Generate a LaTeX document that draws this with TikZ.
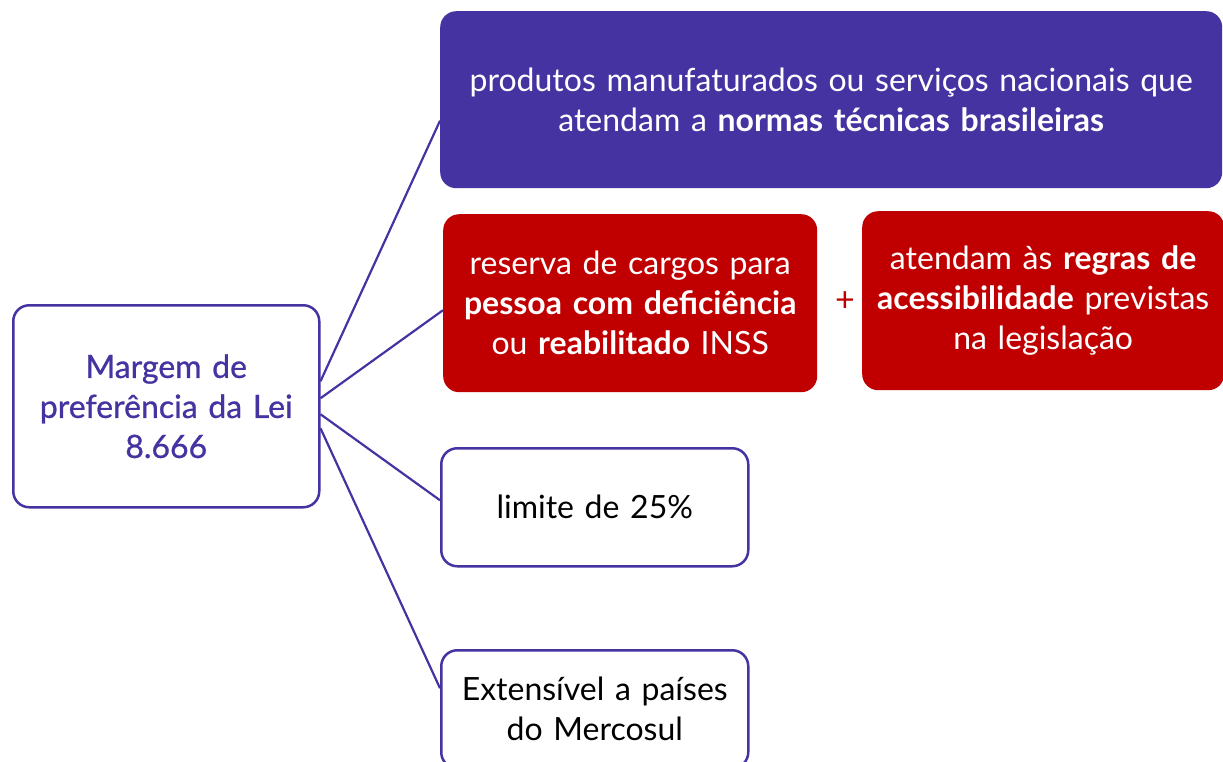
\documentclass[tikz,border=0pt]{standalone}
\usepackage{fontspec}
\setmainfont{Lato}
\definecolor{lilas}{RGB}{68,51,160}
\definecolor{vermelho}{RGB}{192,0,0}
\begin{document}
\begin{tikzpicture}[x=1pt, y=1pt,
	caixa/.style={rounded corners=16pt, align=center, inner sep=0pt, anchor=north west,
		font=\fontsize{32}{40}\selectfont},
	branca/.style={caixa, draw=lilas, line width=2.5pt, fill=white, text=black},
	cheia/.style={caixa, text=white},
	ramo/.style={draw=lilas, line width=2.2pt}]
	\useasboundingbox (0,0) rectangle (1223,-761);
	% raiz
	\node[branca, text=lilas, minimum width=306, minimum height=202, text width=296,
		font=\fontsize{32}{40}\selectfont\addfontfeature{FakeBold=0.8}] (raiz) at (12,-304)
		{Margem de\\preferência da Lei\\8.666};
	% ramos
	\node[cheia, fill=lilas, minimum width=782, minimum height=177, text width=770] (normas) at (440,-11)
		{produtos manufaturados ou serviços nacionais que\\atendam a \textbf{normas técnicas brasileiras}};
	\node[cheia, fill=vermelho, minimum width=374, minimum height=178, text width=366] (cargos) at (443,-214)
		{reserva de cargos para\\\textbf{pessoa com deficiência}\\ou \textbf{reabilitado} INSS};
	\node[cheia, fill=vermelho, minimum width=362, minimum height=179, text width=356] (acesso) at (862,-211)
		{atendam às \textbf{regras de}\\\textbf{acessibilidade} previstas\\na legislação};
	\node[text=vermelho, font=\fontsize{34}{40}\selectfont\addfontfeature{Weight=300}] (mais) at (845,-302) {+};
	\node[branca, minimum width=307, minimum height=118, text width=290] (limite) at (440,-447)
		{limite de 25\%};
	\node[branca, minimum width=307, minimum height=118, text width=290] (mercosul) at (440,-649)
		{Extensível a países\\do Mercosul};
	% ligacoes
	\draw[ramo] ([yshift=25pt]raiz.east) -- ([yshift=-21pt]normas.west);
	\draw[ramo] ([yshift=8pt]raiz.east) -- ([yshift=-7pt]cargos.west);
	\draw[ramo] ([yshift=-8pt]raiz.east) -- ([yshift=7pt]limite.west);
	\draw[ramo] ([yshift=-22pt]raiz.east) -- ([yshift=21pt]mercosul.west);
\end{tikzpicture}
\end{document}
